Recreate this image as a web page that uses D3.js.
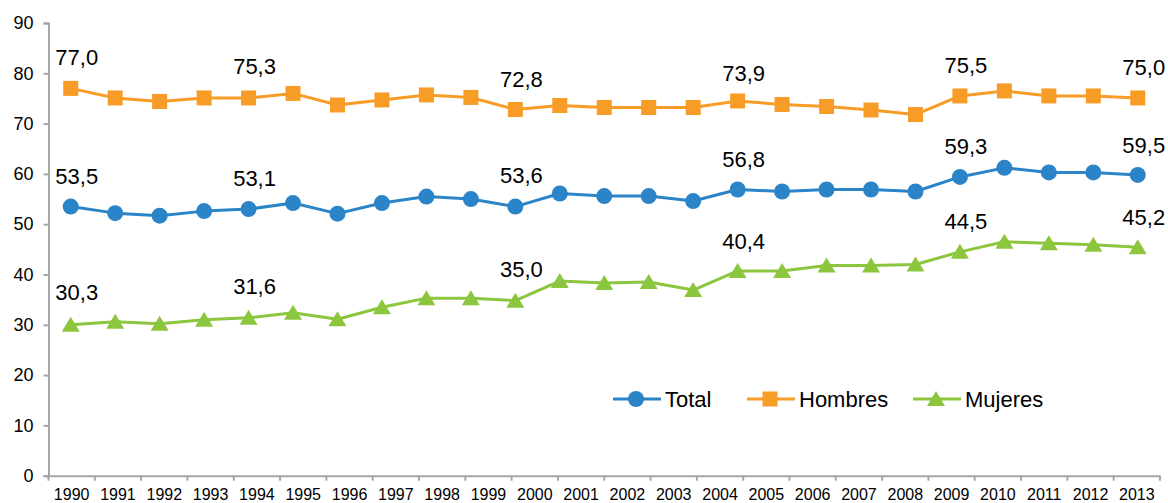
<!DOCTYPE html>
<html>
<head>
<meta charset="utf-8">
<script src="https://cdn.jsdelivr.net/npm/d3@7"></script>
<style>
  html, body { margin: 0; padding: 0; background: #fff; }
  svg { display: block; font-family: "Liberation Sans", Arial, sans-serif; }
</style>
</head>
<body>
<svg id="chart" width="1168" height="503"></svg>
<script>
// Category labels shown on the x axis (24 labels)
const years = ["1990","1991","1992","1993","1994","1995","1996","1997","1998","1999","2000","2001",
               "2002","2003","2004","2005","2006","2007","2008","2009","2010","2011","2012","2013"];

// Series values (25 plotted points each, as drawn in the original)
const total   = [53.5,52.2,51.7,52.6,53.0,54.2,52.1,54.2,55.5,55.0,53.5,56.1,55.6,55.6,54.6,56.9,56.5,56.9,56.9,56.5,59.4,61.2,60.3,60.3,59.8];
const hombres = [77.0,75.1,74.4,75.1,75.1,76.0,73.7,74.7,75.7,75.2,72.8,73.6,73.2,73.2,73.2,74.5,73.8,73.4,72.7,71.8,75.5,76.5,75.5,75.5,75.1];
const mujeres = [30.0,30.6,30.2,31.0,31.4,32.4,31.1,33.5,35.3,35.3,34.8,38.7,38.3,38.5,36.9,40.7,40.7,41.8,41.8,42.0,44.5,46.5,46.2,45.9,45.4];

// Data labels (index of point and labelled value)
const labelIdx      = [0, 4, 10, 15, 20, 24];
const totalLabels   = [53.5, 53.1, 53.6, 56.8, 59.3, 59.5];
const hombresLabels = [77.0, 75.3, 72.8, 73.9, 75.5, 75.0];
const mujeresLabels = [30.3, 31.6, 35.0, 40.4, 44.5, 45.2];

const yTicks = [0,10,20,30,40,50,60,70,80,90];
const seriesNames = ["Total","Hombres","Mujeres"];

(function () {
const svg = d3.select("#chart");
const mLeft = 48.5, mRight = 1160, mTop = 23, mBottom = 475.7;

const y = d3.scaleLinear().domain([0, 90]).range([mBottom, mTop]);
const xPts = d3.scalePoint().domain(d3.range(total.length)).range([mLeft, mRight]).padding(0.5);
const xCat = d3.scaleBand().domain(years).range([mLeft, mRight]);

const axisColor = "#a6a6a6";

// Y axis
const yAxis = svg.append("g").attr("transform", `translate(${mLeft},0)`)
  .call(d3.axisLeft(y).tickValues(yTicks).tickSize(5).tickPadding(10).tickFormat(d3.format("d")));
yAxis.select(".domain").attr("stroke", axisColor).attr("stroke-width", 2);
yAxis.selectAll(".tick line").attr("stroke", axisColor).attr("stroke-width", 2);
yAxis.selectAll(".tick text").attr("font-size", 18).attr("fill", "#000")
  .attr("font-family", "Liberation Sans, Arial, sans-serif");

// X axis (band scale for category labels)
const xAxis = svg.append("g").attr("transform", `translate(0,${mBottom})`)
  .call(d3.axisBottom(xCat).tickSize(0).tickPadding(0));
xAxis.select(".domain").attr("stroke", axisColor).attr("stroke-width", 2);
xAxis.selectAll(".tick text").attr("font-size", 16).attr("fill", "#000")
  .attr("font-family", "Liberation Sans, Arial, sans-serif")
  .attr("dy", null).attr("y", 24.5);
// tick marks at category boundaries
const bounds = years.map(d => xCat(d)).concat([mRight]);
xAxis.selectAll("line.bound").data(bounds).enter().append("line")
  .attr("class", "bound")
  .attr("x1", d => d).attr("x2", d => d).attr("y1", 0).attr("y2", 5)
  .attr("stroke", axisColor).attr("stroke-width", 2);

const colors = { Total: "#2a84c7", Hombres: "#f89c28", Mujeres: "#8cc63f" };
const seriesData = { Total: total, Hombres: hombres, Mujeres: mujeres };
const labelData = { Total: totalLabels, Hombres: hombresLabels, Mujeres: mujeresLabels };

const line = d3.line().x((d, i) => xPts(i)).y(d => y(d));

function marker(g, name, cx, cy) {
  const c = colors[name];
  if (name === "Total") {
    g.append("circle").attr("cx", cx).attr("cy", cy).attr("r", 8).attr("fill", c);
  } else if (name === "Hombres") {
    g.append("rect").attr("x", cx - 7.5).attr("y", cy - 7.5).attr("width", 15).attr("height", 15).attr("fill", c);
  } else {
    g.append("path").attr("d", `M${cx - 9},${cy + 7} L${cx + 9},${cy + 7} L${cx},${cy - 8} Z`).attr("fill", c);
  }
}

const fmt = v => d3.format(".1f")(v).replace(".", ",");

seriesNames.forEach(name => {
  const vals = seriesData[name];
  const g = svg.append("g");
  g.append("path").datum(vals).attr("d", line)
    .attr("fill", "none").attr("stroke", colors[name]).attr("stroke-width", 3).attr("stroke-linejoin", "round");
  vals.forEach((v, i) => marker(g, name, xPts(i), y(v)));
  labelIdx.forEach((idx, k) => {
    const lv = labelData[name][k];
    svg.append("text")
      .attr("x", xPts(idx) + 6).attr("y", y(lv) - 23)
      .attr("text-anchor", "middle").attr("font-size", 22).attr("fill", "#000")
      .text(fmt(lv));
  });
});

// Legend
const legendX = [613, 747, 913];
const legY = 399;
seriesNames.forEach((name, i) => {
  const g = svg.append("g");
  const x0 = legendX[i];
  g.append("line").attr("x1", x0).attr("x2", x0 + 48).attr("y1", legY).attr("y2", legY)
    .attr("stroke", colors[name]).attr("stroke-width", 3);
  marker(g, name, x0 + 23, legY);
  g.append("text").attr("x", x0 + 52).attr("y", legY + 8)
    .attr("font-size", 22).attr("fill", "#000").text(name);
});
})();
</script>
</body>
</html>
